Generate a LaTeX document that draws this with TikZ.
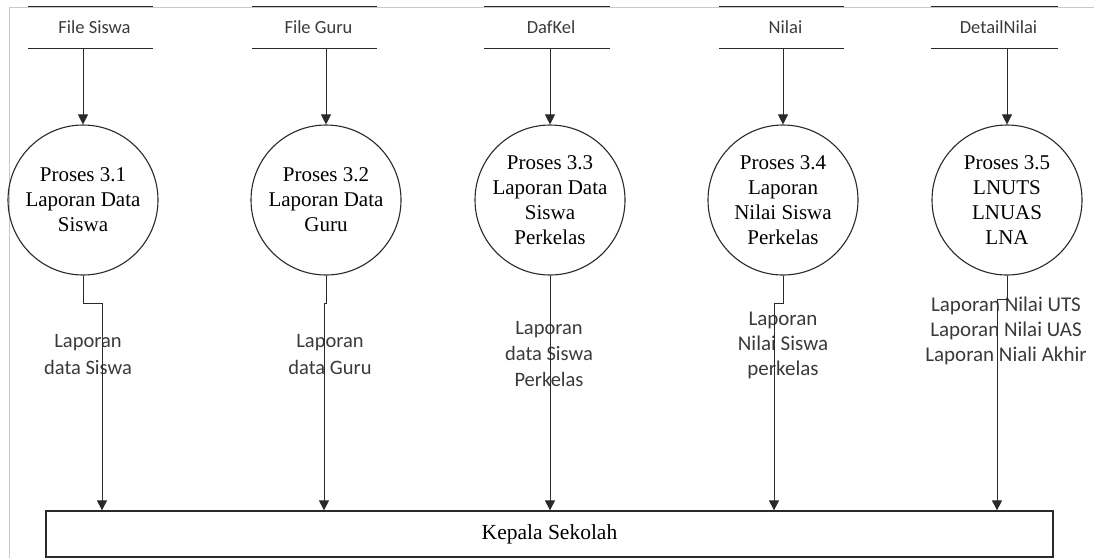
\documentclass[tikz,border=0pt]{standalone}
\usepackage{fontspec}
\setmainfont{Liberation Serif}
\newfontfamily\labfont{Carlito}
\usetikzlibrary{arrows.meta,calc}
\definecolor{ink}{HTML}{2A2A2A}
\definecolor{txt}{HTML}{3A3A3A}
\definecolor{framegray}{HTML}{C8C8C8}
\begin{document}
\begin{tikzpicture}[x=1pt,y=-1pt,
  proc/.style={circle,draw=ink,line width=1.1pt,minimum size=150pt,inner sep=0pt,align=center,
    font=\fontsize{21}{25}\selectfont},
  store/.style={minimum height=41pt,inner sep=0pt,text=txt,font=\labfont\fontsize{18.5}{22}\selectfont},
  storeline/.style={draw=ink,line width=1.1pt},
  flowlab/.style={align=center,text=txt,font=\labfont\fontsize{21}{25}\selectfont},
  entity/.style={draw=ink,line width=1.3pt,minimum width=1007pt,minimum height=46pt,inner sep=0pt,
    font=\fontsize{21.5}{24}\selectfont},
  arr/.style={draw=ink,line width=1pt,-{Triangle[width=10pt,length=10pt]}}]
\useasboundingbox (0,0) rectangle (1094,558);
% frame
\draw[framegray,line width=1pt] (9,558) -- (9,7) -- (1094,7);
% data stores
\node[store,minimum width=125pt] (s1) at (90.5,27.5) {\hspace{8pt}File Siswa};
\node[store,minimum width=125pt] (s2) at (314.5,27.5) {\hspace{8pt}File Guru};
\node[store,minimum width=126pt] (s3) at (547,27.5) {\hspace{8pt}DafKel};
\node[store,minimum width=125pt] (s4) at (781.5,27.5) {\hspace{8pt}Nilai};
\node[store,minimum width=127pt] (s5) at (994.5,27.5) {\hspace{8pt}DetailNilai};
\foreach \s in {s1,s2,s3,s4,s5}{
  \draw[storeline] (\s.north west) -- (\s.north east);
  \draw[storeline] (\s.south west) -- (\s.south east);
}
% processes
\node[proc] (c1) at (83,200) {Proses 3.1\\Laporan Data\\Siswa};
\node[proc] (c2) at (326,200) {Proses 3.2\\Laporan Data\\Guru};
\node[proc] (c3) at (550,200) {Proses 3.3\\Laporan Data\\Siswa\\Perkelas};
\node[proc] (c4) at (783,200) {Proses 3.4\\Laporan\\Nilai Siswa\\Perkelas};
\node[proc] (c5) at (1007,200) {Proses 3.5\\LNUTS\\LNUAS\\LNA};
% entity
\node[entity] (ks) at (549.5,534) {Kepala Sekolah};
% input flows
\foreach \s/\c in {s1/c1,s2/c2,s3/c3,s4/c4,s5/c5}{
  \draw[arr] (\s.south -| \c.north) -- (\c.north);
}
% output flow labels
\node[flowlab,font=\labfont\fontsize{20.5}{27}\selectfont] (l1) at (88,354) {Laporan\\data Siswa};
\node[flowlab,font=\labfont\fontsize{20.5}{27}\selectfont] (l2) at (330,354) {Laporan\\data Guru};
\node[flowlab,font=\labfont\fontsize{20.5}{26}\selectfont] (l3) at (549,354) {Laporan\\data Siswa\\Perkelas};
\node[flowlab] (l4) at (783,345) {Laporan\\Nilai Siswa\\perkelas};
\node[flowlab] (l5) at (1006,331) {Laporan Nilai UTS\\Laporan Nilai UAS\\Laporan Niali Akhir};
% output flows
\coordinate (j1) at (102,303);
\coordinate (j2) at (324,303);
\coordinate (j4) at (774,303);
\coordinate (j5) at (997,299);
\draw[arr] (c1.south) -- (c1.south |- j1) -- (j1) -- (j1 |- ks.north);
\draw[arr] (c2.south) -- (c2.south |- j2) -- (j2) -- (j2 |- ks.north);
\draw[arr] (c3.south) -- (c3.south |- ks.north);
\draw[arr] (c4.south) -- (c4.south |- j4) -- (j4) -- (j4 |- ks.north);
\draw[arr] (c5.south) -- (c5.south |- j5) -- (j5) -- (j5 |- ks.north);
\end{tikzpicture}
\end{document}
